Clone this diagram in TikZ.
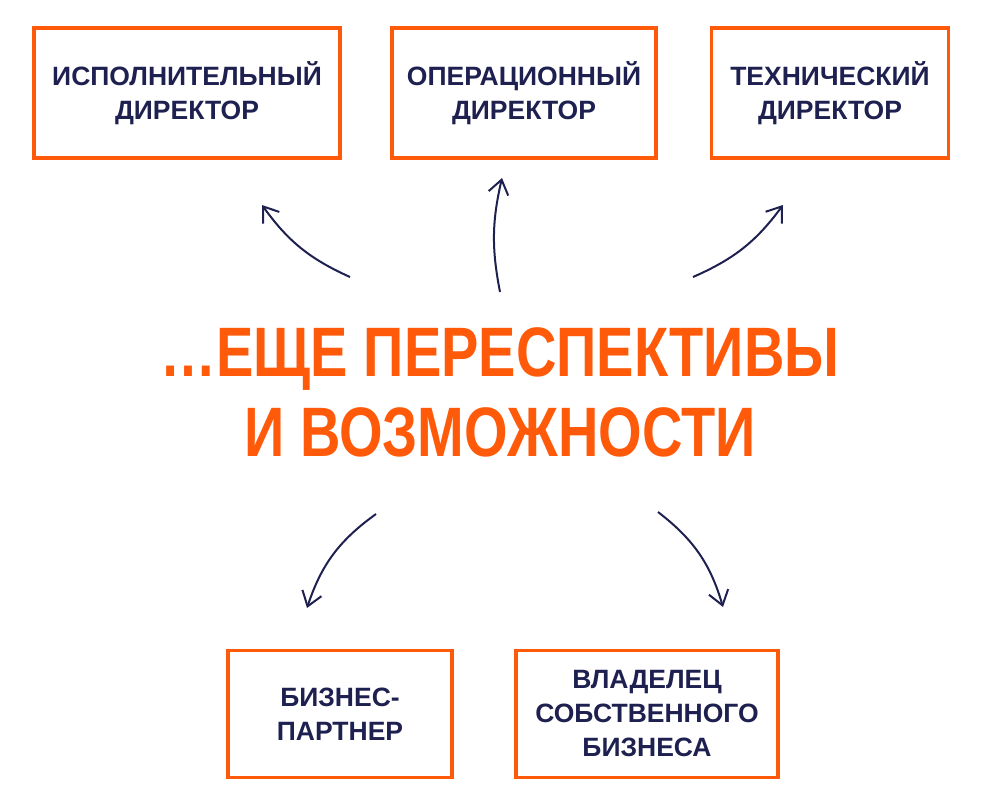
\documentclass[tikz,border=0pt]{standalone}
\usepackage{fontspec}
\setmainfont{Liberation Sans}
\usetikzlibrary{arrows.meta,positioning}
\definecolor{orng}{HTML}{FF5A0A}
\definecolor{navy}{HTML}{1E2050}
\tikzset{%
	role/.style  = {draw=orng, line width=3.5pt, rectangle, text=navy, align=center, font=\bfseries\fontsize{26.5}{34}\selectfont},
	title/.style = {text=orng, align=center, font=\bfseries\fontsize{70}{80}\selectfont, xscale=0.8},
	arrow/.style = {navy, line width=2pt, -{Straight Barb[length=14pt,width=20pt,line width=2pt]}},
}
\begin{document}
\begin{tikzpicture}[x=1pt,y=-1pt]
	\useasboundingbox (0,0) rectangle (998,806);
	\node [role, minimum width=306pt, minimum height=130pt] (ceo) at (187,93) {ИСПОЛНИТЕЛЬНЫЙ\\ДИРЕКТОР};
	\node [role, minimum width=264pt, minimum height=130pt] (coo) at (524,93) {ОПЕРАЦИОННЫЙ\\ДИРЕКТОР};
	\node [role, minimum width=237pt, minimum height=130pt] (cto) at (830,93) {ТЕХНИЧЕСКИЙ\\ДИРЕКТОР};
	\node [role, minimum width=224pt, minimum height=127pt] (partner) at (340,714) {БИЗНЕС-\\ПАРТНЕР};
	\node [role, minimum width=262pt, minimum height=127pt] (owner) at (647,714) {ВЛАДЕЛЕЦ\\СОБСТВЕННОГО\\БИЗНЕСА};
	\node [title] (main) at (500,392) {…ЕЩЕ ПЕРЕСПЕКТИВЫ\\И ВОЗМОЖНОСТИ};
	
	% arrow ends
	\coordinate (a1) at (350,277); \coordinate (b1) at (262,205);
	\coordinate (a2) at (500,292); \coordinate (b2) at (502,178);
	\coordinate (a3) at (693,277); \coordinate (b3) at (783,205);
	\coordinate (a4) at (376,514); \coordinate (b4) at (307,608);
	\coordinate (a5) at (658,512); \coordinate (b5) at (723,607);
	\draw[arrow] (a1) to[bend left=15] (b1);
	\draw[arrow] (a2) to[bend left=12] (b2);
	\draw[arrow] (a3) to[bend right=15] (b3);
	\draw[arrow] (a4) to[bend right=18] (b4);
	\draw[arrow] (a5) to[bend left=18] (b5);
\end{tikzpicture}
\end{document}
